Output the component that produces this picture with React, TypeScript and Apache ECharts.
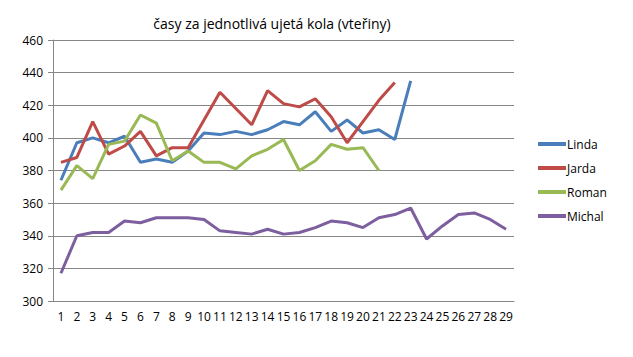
import React, { useEffect, useRef } from "react";
import * as echarts from "echarts";

const categories = Array.from({ length: 29 }, (_, i) => String(i + 1));
const linda = [374, 397, 400, 397, 401, 385, 387, 385, 392, 403, 402, 404, 402, 405, 410, 408, 416, 404, 411, 403, 405, 399, 435];
const jarda = [385, 388, 410, 390, 395, 404, 389, 394, 394, 411, 428, 418, 408, 429, 421, 419, 424, 413, 397, 410, 423, 434];
const roman = [368, 383, 375, 396, 398, 414, 409, 386, 392, 385, 385, 381, 389, 393, 399, 380, 386, 396, 393, 394, 380];
const michal = [317, 340, 342, 342, 349, 348, 351, 351, 351, 350, 343, 342, 341, 344, 341, 342, 345, 349, 348, 345, 351, 353, 357, 338, 346, 353, 354, 350, 344];
const seriesNames = ["Linda", "Jarda", "Roman", "Michal"];
const colors = ["#4A7EBB", "#BE4B48", "#98B954", "#7D5FA0"];
const title = "časy za jednotlivá ujetá kola (vteřiny)";

export default function App() {
  const ref = useRef<HTMLDivElement>(null);
  useEffect(() => {
    const chart = echarts.init(ref.current!, null, { renderer: "svg" });
    const font = "'Open Sans', 'Liberation Sans', sans-serif";
    const data = [linda, jarda, roman, michal];
    chart.setOption({
      animation: false,
      color: colors,
      title: {
        text: title,
        left: 267,
        top: 11,
        textAlign: "center",
        textStyle: { fontFamily: font, fontSize: 14, fontWeight: "normal", color: "#000" },
      },
      legend: {
        orient: "vertical",
        left: 533,
        top: 133,
        itemWidth: 28,
        itemHeight: 4,
        itemGap: 12,
        icon: "rect",
        data: seriesNames,
        textStyle: { fontFamily: font, fontSize: 12, color: "#000", padding: [0, 0, 0, -4] },
      },
      grid: { left: 53, right: 119, top: 40, bottom: 56 },
      xAxis: {
        type: "category",
        data: categories,
        boundaryGap: true,
        axisLine: { lineStyle: { color: "#868686" } },
        axisTick: { alignWithLabel: false, length: 5, lineStyle: { color: "#868686" } },
        axisLabel: { fontFamily: font, fontSize: 12, color: "#000", interval: 0, margin: 9 },
      },
      yAxis: {
        type: "value",
        min: 300,
        max: 460,
        interval: 20,
        axisLine: { show: true, lineStyle: { color: "#868686" } },
        axisTick: { show: true, length: 5, lineStyle: { color: "#868686" } },
        splitLine: { lineStyle: { color: "#868686" } },
        axisLabel: { fontFamily: font, fontSize: 12, color: "#000", margin: 10 },
      },
      series: seriesNames.map((n, i) => ({
        name: n,
        type: "line",
        data: data[i],
        showSymbol: false,
        symbol: "none",
        lineStyle: { width: 3, color: colors[i] },
      })),
    });
    return () => chart.dispose();
  }, []);
  return <div ref={ref} style={{ width: 633, height: 357, position: "absolute", left: 0, top: 0 }} />;
}
